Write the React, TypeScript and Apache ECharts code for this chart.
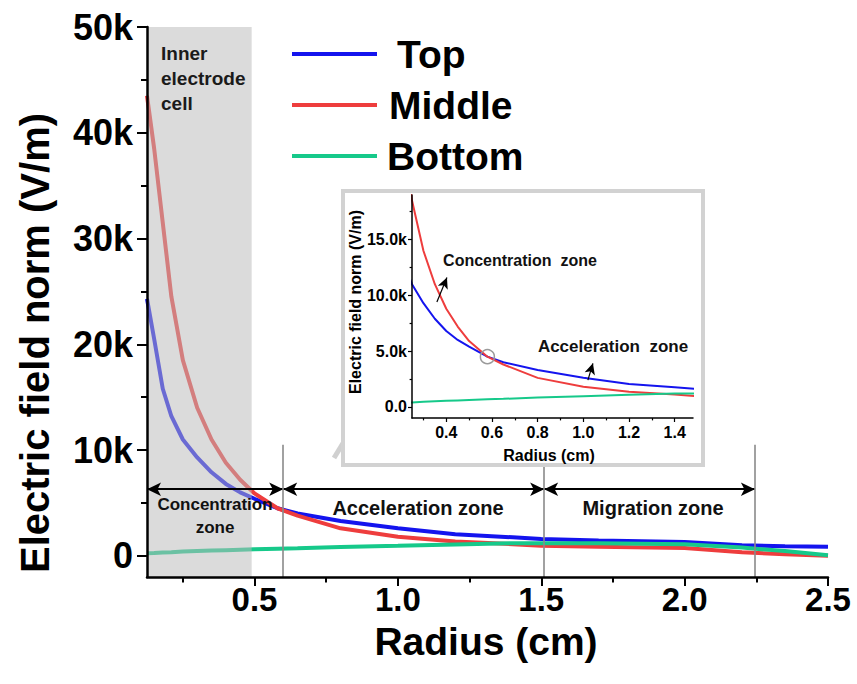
import React, { useEffect, useRef } from "react";
import * as echarts from "echarts";

const FONT = "Liberation Sans, Arial, Helvetica, sans-serif";

// ---- data ----
const radius = [0.125, 0.15, 0.18, 0.21, 0.25, 0.3, 0.35, 0.4, 0.45, 0.5, 0.58, 0.65, 0.8, 1.0, 1.2, 1.4, 1.5, 1.7, 2.0, 2.2, 2.35, 2.5];
const topField = [24300, 20500, 15800, 13200, 11000, 9300, 7900, 6800, 6000, 5400, 4500, 4000, 3300, 2600, 2050, 1750, 1600, 1450, 1300, 1000, 900, 850];
const middleField = [43500, 38500, 31500, 24500, 18500, 14000, 11000, 8800, 7200, 5900, 4500, 3800, 2600, 1800, 1350, 1100, 950, 850, 750, 350, 150, 0];
const bottomField = [250, 280, 320, 350, 400, 450, 500, 540, 580, 620, 680, 720, 830, 950, 1080, 1200, 1200, 1180, 1100, 780, 450, 50];

const seriesNames = ["Top", "Middle", "Bottom"];
const seriesColors = ["#1414ee", "#ee3d3d", "#16c98a"];

// main axes
const mainX = [0.125, 2.5];
const mainY = [-2000, 50000];
const mainXMajor = [0.5, 1.0, 1.5, 2.0, 2.5];
const mainXMinor = [0.25, 0.75, 1.25, 1.75, 2.25];
const mainYMajor = [0, 10000, 20000, 30000, 40000, 50000];
const mainYMinor = [5000, 15000, 25000, 35000, 45000];

// inset axes
const insetX = [0.25, 1.48];
const insetY = [-1000, 19000];
const insetXMajor = [0.4, 0.6, 0.8, 1.0, 1.2, 1.4];
const insetXMinor = [0.3, 0.5, 0.7, 0.9, 1.1, 1.3];
const insetYMajor = [0, 5000, 10000, 15000];
const insetYMinor = [2500, 7500, 12500, 17500];

// annotations
const bandRange = [0.125, 0.49];
const zoneBounds = [0.125, 0.6, 1.51, 2.245];
const zoneArrowLevel = 6300;
const zoneLineTop = 10500;
const concArrow = [[0.359, 9400], [0.403, 11600]];
const accArrow = [[1.02, 2400], [1.042, 3900]];
const crossPoint = [0.58, 4500];

const pairs = (ys: number[]) => radius.map((r, i) => [r, ys[i]]);
const fields = [topField, middleField, bottomField];

export default function App() {
  const ref = useRef<HTMLDivElement>(null);
  useEffect(() => {
    if (!ref.current) return;
    const chart = echarts.init(ref.current, undefined, { renderer: "svg" });

    const bold = (size: number) => ({ fontFamily: FONT, fontWeight: "bold" as const, fontSize: size, color: "#000" });

    const mkX = (grid: number, range: number[], major: number[] | null, minor: number[] | null, size: number, lw: number, tickLen: number, margin: number, z: number) => ({
      type: "value",
      gridIndex: grid,
      position: "bottom",
      min: range[0],
      max: range[1],
      z,
      axisLine: { show: major !== null, onZero: false, lineStyle: { color: "#000", width: lw } },
      axisTick: major !== null
        ? { show: true, customValues: major, length: tickLen, lineStyle: { color: "#000", width: lw * 0.8 } }
        : { show: true, customValues: minor, length: tickLen * 0.6, lineStyle: { color: "#000", width: lw * 0.8 } },
      axisLabel: major !== null
        ? { show: true, customValues: major, margin, formatter: (v: number) => v.toFixed(1), ...bold(size) }
        : { show: false },
      splitLine: { show: false },
    });

    const mkY = (grid: number, range: number[], major: number[] | null, minor: number[] | null, size: number, lw: number, tickLen: number, margin: number, z: number, fmt: (v: number) => string) => ({
      type: "value",
      gridIndex: grid,
      position: "left",
      min: range[0],
      max: range[1],
      z,
      axisLine: { show: major !== null, onZero: false, lineStyle: { color: "#000", width: lw } },
      axisTick: major !== null
        ? { show: true, customValues: major, length: tickLen, lineStyle: { color: "#000", width: lw * 0.8 } }
        : { show: true, customValues: minor, length: tickLen * 0.6, lineStyle: { color: "#000", width: lw * 0.8 } },
      axisLabel: major !== null
        ? { show: true, customValues: major, margin, formatter: fmt, ...bold(size) }
        : { show: false },
      splitLine: { show: false },
    });

    const mainFmt = (v: number) => (v === 0 ? "0" : `${v / 1000}k`);
    const insetFmt = (v: number) => (v === 0 ? "0.0" : `${(v / 1000).toFixed(1)}k`);

    const mainSeries = seriesNames.map((name, i) => ({
      type: "line",
      name,
      xAxisIndex: 0,
      yAxisIndex: 0,
      data: pairs(fields[i]),
      showSymbol: false,
      z: 2,
      lineStyle: { color: seriesColors[i], width: 4 },
      itemStyle: { color: seriesColors[i] },
    }));

    const insetSeries: any[] = seriesNames.map((name, i) => ({
      type: "line",
      name,
      xAxisIndex: 2,
      yAxisIndex: 2,
      data: pairs(fields[i]),
      showSymbol: false,
      clip: true,
      z: 30,
      lineStyle: { color: seriesColors[i], width: 2 },
      itemStyle: { color: seriesColors[i] },
    }));
    insetSeries[0].markLine = {
      silent: true,
      z: 40,
      symbol: ["none", "arrow"],
      symbolSize: [8, 11],
      label: { show: false },
      lineStyle: { color: "#000", width: 1.2, type: "solid" },
      data: [
        [{ coord: concArrow[0] }, { coord: concArrow[1] }],
        [{ coord: accArrow[0] }, { coord: accArrow[1] }],
      ],
    };
    insetSeries[1].markPoint = {
      silent: true,
      z: 40,
      symbol: "circle",
      symbolSize: 14,
      label: { show: false },
      itemStyle: { color: "rgba(0,0,0,0)", borderColor: "#9a9a9a", borderWidth: 1.5 },
      data: [{ coord: crossPoint }],
    };

    const bandSeries = {
      type: "custom",
      xAxisIndex: 0,
      yAxisIndex: 0,
      z: 3,
      silent: true,
      data: [[bandRange[0], bandRange[1], mainY[0], mainY[1]]],
      encode: { x: [0, 1], y: [2, 3] },
      renderItem: (_p: any, api: any) => {
        const a = api.coord([api.value(0), api.value(3)]);
        const b = api.coord([api.value(1), api.value(2)]);
        return {
          type: "rect",
          shape: { x: a[0] + 1.2, y: a[1], width: b[0] - a[0] - 1.2, height: b[1] - a[1] },
          style: { fill: "rgba(186,186,186,0.52)" },
        };
      },
      markLine: {
        silent: true,
        symbol: ["arrow", "arrow"],
        symbolSize: [10, 14],
        label: { show: false },
        lineStyle: { color: "#000", width: 2, type: "solid" },
        data: zoneBounds.slice(0, -1).map((b, i) => [
          { coord: [b, zoneArrowLevel] },
          { coord: [zoneBounds[i + 1], zoneArrowLevel] },
        ]),
      },
    };

    const dividerSeries = {
      type: "line",
      xAxisIndex: 0,
      yAxisIndex: 0,
      data: [],
      z: 2,
      markLine: {
        silent: true,
        symbol: ["none", "none"],
        label: { show: false },
        lineStyle: { color: "#8a8a8a", width: 1.6, type: "solid" },
        data: zoneBounds.slice(1).map((b) => [
          { coord: [b, zoneLineTop] },
          { coord: [b, mainY[0]] },
        ]),
      },
    };

    // gray pointer arrow to the inset
    const tail = [334, 458];
    const tip = [356, 422];
    const dx = tip[0] - tail[0], dy = tip[1] - tail[1];
    const L = Math.hypot(dx, dy);
    const ux = dx / L, uy = dy / L;
    const hl = 15, hw = 8;
    const bx = tip[0] - ux * hl, by = tip[1] - uy * hl;

    chart.setOption({
      animation: false,
      backgroundColor: "#fff",
      legend: {
        orient: "vertical",
        left: 292,
        top: 34,
        padding: 0,
        itemWidth: 85,
        itemHeight: 4,
        itemGap: 11,
        icon: "rect",
        selectedMode: false,
        textStyle: { ...bold(39), lineHeight: 40, padding: [0, 0, 0, 5] },
        data: [
          { name: "Top", textStyle: { padding: [0, 0, 0, 15] } },
          { name: "Middle", textStyle: { padding: [0, 0, 0, 7] } },
          { name: "Bottom", textStyle: { padding: [0, 0, 0, 5] } },
        ],
      },
      grid: [
        { left: 147, top: 27, right: 29, bottom: 107, containLabel: false },
        { left: 412, top: 195, width: 281, height: 223, containLabel: false },
      ],
      xAxis: [
        mkX(0, mainX, mainXMajor, null, 33, 2.5, 9, 6, 10),
        mkX(0, mainX, null, mainXMinor, 33, 2.5, 9, 6, 10),
        mkX(1, insetX, insetXMajor, null, 16, 1.5, 4, 6, 31),
        mkX(1, insetX, null, insetXMinor, 16, 1.5, 4, 6, 31),
      ],
      yAxis: [
        mkY(0, mainY, mainYMajor, null, 36, 2.5, 10, 14, 10, mainFmt),
        mkY(0, mainY, null, mainYMinor, 36, 2.5, 10, 14, 10, mainFmt),
        mkY(1, insetY, insetYMajor, null, 16, 1.5, 4, 5, 31, insetFmt),
        mkY(1, insetY, null, insetYMinor, 16, 1.5, 4, 5, 31, insetFmt),
      ],
      series: [...mainSeries, bandSeries, dividerSeries, ...insetSeries],
      graphic: [
        {
          type: "text", z: 15, x: 35, y: 343, rotation: Math.PI / 2,
          style: { text: "Electric field norm (V/m)", font: `bold 40px ${FONT}`, fill: "#000", align: "center", verticalAlign: "middle" },
        },
        {
          type: "text", z: 15, x: 486, y: 641,
          style: { text: "Radius (cm)", font: `bold 39px ${FONT}`, fill: "#000", align: "center", verticalAlign: "middle" },
        },
        {
          type: "text", z: 15, x: 161, y: 41,
          style: { text: "Inner\nelectrode\ncell", font: `bold 19px ${FONT}`, lineHeight: 25, fill: "#1a1a1a", align: "left", verticalAlign: "top" },
        },
        {
          type: "text", z: 15, x: 215, y: 516,
          style: { text: "Concentration\nzone", font: `bold 17px ${FONT}`, lineHeight: 23, fill: "#111", align: "center", verticalAlign: "middle" },
        },
        {
          type: "text", z: 15, x: 418, y: 508,
          style: { text: "Acceleration zone", font: `bold 20px ${FONT}`, fill: "#111", align: "center", verticalAlign: "middle" },
        },
        {
          type: "text", z: 15, x: 653, y: 508,
          style: { text: "Migration zone", font: `bold 20px ${FONT}`, fill: "#111", align: "center", verticalAlign: "middle" },
        },
        {
          type: "line", z: 16,
          shape: { x1: tail[0], y1: tail[1], x2: bx, y2: by },
          style: { stroke: "#d0d0d0", lineWidth: 5 },
        },
        {
          type: "polygon", z: 16,
          shape: { points: [[tip[0], tip[1]], [bx - uy * hw, by + ux * hw], [bx + uy * hw, by - ux * hw]] },
          style: { fill: "#d0d0d0" },
        },
        {
          type: "rect", z: 20,
          shape: { x: 343, y: 191, width: 360, height: 274 },
          style: { fill: "#fff", stroke: "#d2d2d2", lineWidth: 4 },
        },
        {
          type: "text", z: 35, x: 355, y: 302, rotation: Math.PI / 2,
          style: { text: "Electric field norm (V/m)", font: `bold 16px ${FONT}`, fill: "#000", align: "center", verticalAlign: "middle" },
        },
        {
          type: "text", z: 35, x: 549, y: 455,
          style: { text: "Radius (cm)", font: `bold 16px ${FONT}`, fill: "#000", align: "center", verticalAlign: "middle" },
        },
        {
          type: "text", z: 35, x: 520, y: 260,
          style: { text: "Concentration  zone", font: `bold 16px ${FONT}`, fill: "#111", align: "center", verticalAlign: "middle" },
        },
        {
          type: "text", z: 35, x: 613, y: 346,
          style: { text: "Acceleration  zone", font: `bold 17px ${FONT}`, fill: "#111", align: "center", verticalAlign: "middle" },
        },
      ],
    });
    return () => chart.dispose();
  }, []);
  return <div ref={ref} style={{ position: "absolute", left: 0, top: 0, width: 857, height: 684 }} />;
}
